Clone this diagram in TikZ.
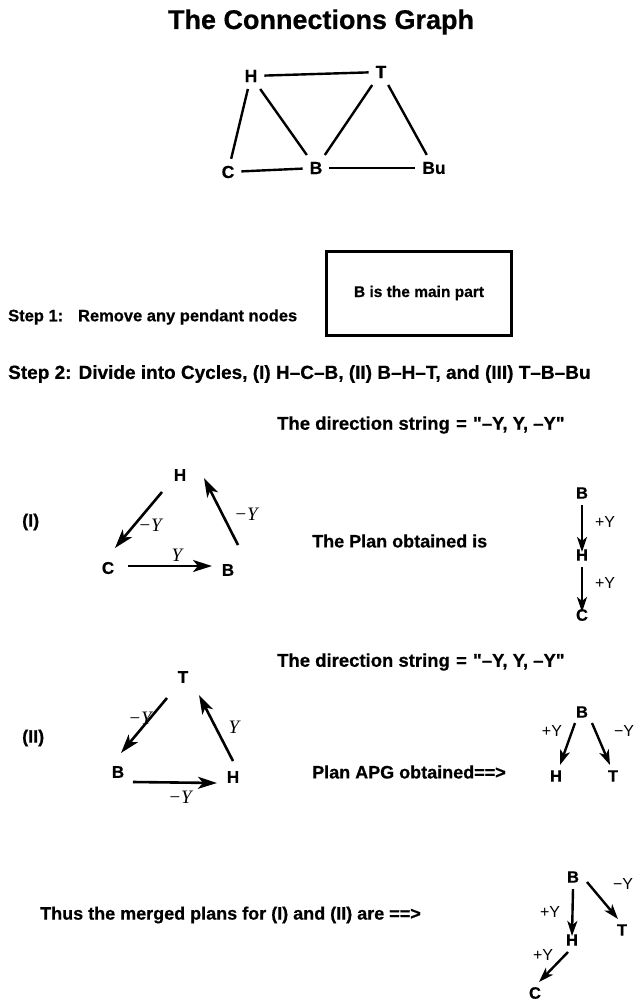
\documentclass[tikz,border=0pt]{standalone}
\usepackage{fontspec}
\setmainfont{Liberation Sans}[BoldFeatures={FakeBold=0.6}]
\newfontfamily\timesf{Liberation Serif}
\newfontfamily\qfont{Liberation Sans}[BoldFeatures={FakeBold=0.6}]
\newcommand{\myquote}{{\qfont\bfseries\symbol{34}}}
\usetikzlibrary{arrows.meta,calc}
\begin{document}
\begin{tikzpicture}[x=1pt,y=-1pt,
  txt/.style={font=\bfseries\fontsize{18}{20}\selectfont, inner sep=0pt, anchor=west},
  gn/.style={font=\bfseries\fontsize{17.5}{19}\selectfont, inner sep=1pt, outer sep=6pt},
  cn/.style={font=\bfseries\fontsize{17}{18}\selectfont, inner sep=1pt},
  pn/.style={font=\bfseries\fontsize{16.5}{18}\selectfont, inner sep=1pt},
  gl/.style={line width=2.4pt},
  arr/.style={line width=2.6pt, -{Stealth[length=19pt,width=12pt,inset=5pt]}},
  pa/.style={line width=2.4pt, -{Stealth[length=15pt,width=10pt,inset=4pt]}},
  yl/.style={font=\timesf\itshape\fontsize{19}{20}\selectfont, inner sep=0pt},
  pl/.style={font=\fontsize{16}{17}\selectfont, inner sep=0pt}]
\useasboundingbox (0,0) rectangle (637,1006);
% title
\node[font=\bfseries\fontsize{27}{30}\selectfont] (title) at (321,22) {The Connections Graph};
% connections graph
\node[gn] (gH) at (251,76) {H};
\node[gn] (gT) at (381,72) {T};
\node[gn] (gC) at (228,172) {C};
\node[gn] (gB) at (316,168) {B};
\node[gn] (gBu) at (434,168) {Bu};
\draw[gl] (gH) -- (gT);
\draw[gl] (gH) -- (gC);
\draw[gl] (gH) -- (gB);
\draw[gl] (gT) -- (gB);
\draw[gl] (gT) -- (gBu);
\draw[gl] (gC) -- (gB);
\draw[gl] (gB) -- (gBu);
% box
\node[draw, line width=3pt, minimum width=185pt, minimum height=84pt,
      font=\bfseries\fontsize{15.5}{17}\selectfont] (box) at (419,293) {B is the main part};
% steps
\node[txt, font=\bfseries\fontsize{16.5}{18}\selectfont] (step1) at (8,317) {Step 1:\hspace{0.9em}Remove any pendant nodes};
\node[txt, font=\bfseries\fontsize{19}{21}\selectfont] (step2) at (8,374) {Step 2: Divide into Cycles, (I) H–C–B, (II) B–H–T, and (III) T–B–Bu};
\node[txt, font=\bfseries\fontsize{18.5}{20}\selectfont] (dir1) at (277,425) {The direction string\,\,=\,\,\myquote–Y, Y, –Y\myquote};
% cycle I
\node[txt] (lI) at (22,522) {(I)};
\node[cn] (cH) at (180,475) {H};
\node[cn] (cC) at (108,568) {C};
\node[cn] (cB) at (228,570) {B};
\draw[arr] ($(cH)+(-18,17)$) -- ($(cC)+(7,-20)$);
\draw[arr] ($(cB)+(10,-25)$) -- ($(cH)+(24,3)$);
\draw[arr] ($(cC)+(20,-2)$) -- ($(cB)+(-16,-4)$);
\node[yl] (yI1) at (150,525) {−Y};
\node[yl] (yI2) at (246,514) {−Y};
\node[yl] (yI3) at (177,555) {Y};
% plan I
\node[txt] (plan1) at (312,541) {The Plan obtained is};
\node[pn] (pB) at (582,493) {B};
\node[pn] (pH) at (582,555) {H};
\node[pn] (pC) at (582,615) {C};
\draw[pa] ($(pB)+(0,12)$) -- ($(pH)+(0,-3)$);
\draw[pa] ($(pH)+(0,12)$) -- ($(pC)+(0,-3)$);
\node[pl] (pY1) at (605,522) {+Y};
\node[pl] (pY2) at (605,583) {+Y};
% direction 2
\node[txt, font=\bfseries\fontsize{18.5}{20}\selectfont] (dir2) at (277,662) {The direction string\,\,=\,\,\myquote–Y, Y, –Y\myquote};
% cycle II
\node[txt] (lII) at (22,738) {(II)};
\node[cn] (dT) at (183,677) {T};
\node[cn] (dB) at (118,772) {B};
\node[cn] (dH) at (233,777) {H};
\draw[arr] ($(dT)+(-16,21)$) -- ($(dB)+(3,-19)$);
\draw[arr] ($(dH)+(0,-16)$) -- ($(dT)+(16,18)$);
\draw[arr] ($(dB)+(15,10)$) -- ($(dH)+(-16,6)$);
\node[yl] (yII1) at (140,718) {−Y};
\node[yl] (yII2) at (234,727) {Y};
\node[yl] (yII3) at (180,797) {−Y};
% plan APG
\node[txt] (plan2) at (312,772) {Plan APG obtained==>};
\node[pn] (qB) at (582,712) {B};
\node[pn] (qH) at (556,776) {H};
\node[pn] (qT) at (613,776) {T};
\draw[pa] ($(qB)+(-7,11)$) -- ($(qH)+(4,-11)$);
\draw[pa] ($(qB)+(10,11)$) -- ($(qT)+(-3,-11)$);
\node[pl] (qY1) at (552,731) {+Y};
\node[pl] (qY2) at (624,731) {−Y};
% merged
\node[txt] (merge) at (40,915) {Thus the merged plans for (I) and (II) are ==>};
\node[pn] (mB) at (573,877) {B};
\node[pn] (mH) at (572,940) {H};
\node[pn] (mT) at (622,930) {T};
\node[pn] (mC) at (535,993) {C};
\draw[pa] ($(mB)+(0,12)$) -- ($(mH)+(0,-4)$);
\draw[pa] ($(mB)+(14,5)$) -- ($(mT)+(-4,-11)$);
\draw[pa] ($(mH)+(-4,12)$) -- ($(mC)+(4,-11)$);
\node[pl] (mY1) at (550,912) {+Y};
\node[pl] (mY2) at (623,884) {−Y};
\node[pl] (mY3) at (543,955) {+Y};
\end{tikzpicture}
\end{document}
